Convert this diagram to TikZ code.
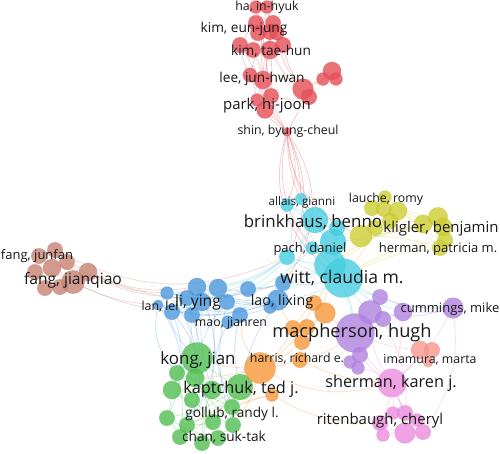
\documentclass[tikz,border=0pt]{standalone}
\usepackage{fontspec}
\setmainfont{Open Sans}
\pgfdeclarelayer{bg}
\pgfsetlayers{bg,main}
\definecolor{cR}{RGB}{230,78,88}
\definecolor{cC}{RGB}{70,205,225}
\definecolor{cY}{RGB}{205,205,50}
\definecolor{cB}{RGB}{75,152,222}
\definecolor{cN}{RGB}{200,130,115}
\definecolor{cG}{RGB}{80,192,80}
\definecolor{cO}{RGB}{246,152,55}
\definecolor{cP}{RGB}{175,130,224}
\definecolor{cK}{RGB}{236,140,222}
\definecolor{cS}{RGB}{246,152,142}
\definecolor{txt}{RGB}{25,25,25}
\newcommand\mkbub[5]{\node[bub,fill=#5,draw=#5!85!black,minimum size=1.3*#4pt] (#1) at (#2,#3) {};}
\newcommand\mklab[4]{\node[lab,font=\fontsize{#4}{#4}\selectfont] (#1) at (#2) {#3};}
\begin{document}
\begin{tikzpicture}[x=1pt,y=-1pt,
  bub/.style={circle,inner sep=0pt,fill opacity=0.8,draw opacity=0.3,line width=0.4pt},
  lab/.style={inner sep=0pt,text=txt,anchor=center,scale=1.3},
  edg/.style={line width=0.7pt,draw opacity=0.32}]
\useasboundingbox (0,0) rectangle (500,453);
\begin{pgfonlayer}{bg}
\fill[white] (0,0) rectangle (500,453);
\end{pgfonlayer}
% Red
\mkbub{r1}{256}{7}{10}{cR}
\mkbub{r2}{267}{7}{10}{cR}
\mkbub{r3}{256}{23}{12}{cR}
\mkbub{r4}{273}{23}{12}{cR}
\mkbub{r5}{258}{33}{12}{cR}
\mkbub{r6}{270}{32}{12}{cR}
\mkbub{r7}{277}{33}{11}{cR}
\mkbub{r8}{240}{45}{12}{cR}
\mkbub{r9}{253}{50}{12}{cR}
\mkbub{r10}{270}{50}{14}{cR}
\mkbub{r11}{283}{45}{12}{cR}
\mkbub{r12}{250}{75}{11}{cR}
\mkbub{r13}{263}{80}{14}{cR}
\mkbub{r14}{303}{89}{16}{cR}
\mkbub{r15}{309}{97}{12}{cR}
\mkbub{r16}{323}{79}{10}{cR}
\mkbub{r17}{332}{71}{14}{cR}
\mkbub{r18}{336}{79}{10}{cR}
\mkbub{r19}{257}{100}{10}{cR}
\mkbub{r20}{271}{96}{12}{cR}
\mkbub{r21}{265}{110}{13}{cR}
\mkbub{r22}{287}{132}{7}{cR}
% Cyan
\mkbub{c1}{287}{205}{10}{cC}
\mkbub{c2}{301}{199}{9}{cC}
\mkbub{c3}{315}{220}{20}{cC}
\mkbub{c4}{337}{228}{12}{cC}
\mkbub{c5}{333}{242}{20}{cC}
\mkbub{c6}{287}{257}{12}{cC}
\mkbub{c7}{312}{248}{10}{cC}
\mkbub{c8}{330}{265}{24}{cC}
\mkbub{c9}{343}{278}{30}{cC}
% Yellow
\mkbub{y1}{385}{197}{10}{cY}
\mkbub{y2}{372}{208}{12}{cY}
\mkbub{y3}{384}{209}{12}{cY}
\mkbub{y4}{398}{211}{14}{cY}
\mkbub{y5}{390}{221}{12}{cY}
\mkbub{y6}{375}{228}{12}{cY}
\mkbub{y7}{361}{236}{17}{cY}
\mkbub{y8}{423}{224}{14}{cY}
\mkbub{y9}{438}{217}{15}{cY}
\mkbub{y10}{443}{227}{14}{cY}
\mkbub{y11}{445}{240}{12}{cY}
\mkbub{y12}{440}{248}{12}{cY}
% Blue
\mkbub{b1}{197}{287}{14}{cB}
\mkbub{b2}{218}{288}{14}{cB}
\mkbub{b3}{167}{293}{10}{cB}
\mkbub{b4}{158}{305}{8}{cB}
\mkbub{b5}{172}{312}{12}{cB}
\mkbub{b6}{187}{298}{12}{cB}
\mkbub{b7}{202}{302}{14}{cB}
\mkbub{b8}{192}{315}{12}{cB}
\mkbub{b9}{227}{302}{12}{cB}
\mkbub{b10}{240}{315}{12}{cB}
\mkbub{b11}{228}{322}{10}{cB}
\mkbub{b12}{248}{289}{12}{cB}
\mkbub{b13}{283}{283}{12}{cB}
\mkbub{b14}{278}{300}{16}{cB}
\mkbub{b15}{270}{307}{10}{cB}
% Brown
\mkbub{n1}{55}{250}{12}{cN}
\mkbub{n2}{39}{256}{12}{cN}
\mkbub{n3}{35}{272}{12}{cN}
\mkbub{n4}{52}{268}{14}{cN}
\mkbub{n5}{67}{262}{12}{cN}
\mkbub{n6}{88}{272}{14}{cN}
\mkbub{n7}{73}{282}{18}{cN}
\mkbub{n8}{60}{287}{12}{cN}
\mkbub{n9}{45}{288}{12}{cN}
% Green
\mkbub{g1}{197}{358}{24}{cG}
\mkbub{g2}{177}{373}{12}{cG}
\mkbub{g3}{172}{390}{14}{cG}
\mkbub{g4}{167}{418}{12}{cG}
\mkbub{g5}{180}{437}{12}{cG}
\mkbub{g6}{202}{443}{12}{cG}
\mkbub{g7}{218}{438}{12}{cG}
\mkbub{g8}{195}{378}{14}{cG}
\mkbub{g9}{192}{400}{12}{cG}
\mkbub{g10}{212}{390}{14}{cG}
\mkbub{g11}{240}{387}{20}{cG}
\mkbub{g12}{232}{407}{12}{cG}
\mkbub{g13}{213}{422}{12}{cG}
\mkbub{g14}{187}{425}{12}{cG}
\mkbub{g15}{233}{425}{12}{cG}
% Orange
\mkbub{o1}{260}{368}{24}{cO}
\mkbub{o2}{300}{360}{12}{cO}
\mkbub{o3}{272}{395}{10}{cO}
\mkbub{o4}{314}{303}{12}{cO}
\mkbub{o5}{325}{313}{16}{cO}
\mkbub{o6}{293}{328}{12}{cO}
\mkbub{o7}{307}{327}{12}{cO}
\mkbub{o8}{302}{342}{12}{cO}
% Purple
\mkbub{p1}{355}{333}{30}{cP}
\mkbub{p2}{380}{297}{12}{cP}
\mkbub{p3}{370}{312}{18}{cP}
\mkbub{p4}{383}{319}{12}{cP}
\mkbub{p5}{403}{312}{14}{cP}
\mkbub{p6}{453}{308}{16}{cP}
\mkbub{p7}{350}{362}{10}{cP}
\mkbub{p8}{360}{355}{12}{cP}
\mkbub{p9}{358}{368}{10}{cP}
% Salmon
\mkbub{s1}{420}{350}{14}{cS}
\mkbub{s2}{432}{350}{12}{cS}
\mkbub{s3}{428}{362}{8}{cS}
% Pink
\mkbub{k1}{392}{383}{22}{cK}
\mkbub{k2}{393}{413}{10}{cK}
\mkbub{k3}{405}{413}{12}{cK}
\mkbub{k4}{380}{423}{12}{cK}
\mkbub{k5}{405}{433}{16}{cK}
\mkbub{k6}{423}{432}{12}{cK}
\mkbub{k7}{383}{435}{10}{cK}
\mkbub{k8}{417}{420}{10}{cK}
% ---------- edges (behind) ----------
\begin{pgfonlayer}{bg}
\foreach \a/\b/\c/\d in {
 r1/r3/cR/5, r2/r4/cR/-5, r1/r8/cR/10, r3/r9/cR/5, r4/r10/cR/-5, r5/r12/cR/5, r6/r13/cR/5,
 r8/r12/cR/-8, r9/r13/cR/5, r10/r20/cR/5, r11/r14/cR/-10, r12/r19/cR/5, r13/r21/cR/-5,
 r3/r21/cR/12, r4/r20/cR/-12, r14/r17/cR/-10, r14/r16/cR/5, r15/r20/cR/10, r2/r11/cR/-10,
 r7/r14/cR/-15, r1/r19/cR/15, r2/r13/cR/-8, r10/r15/cR/-10,
 r19/r22/cR/-10, r21/r22/cR/5, r20/r22/cR/-5, r13/r22/cR/-12, r14/r22/cR/10, r8/r21/cR/10,
 r22/c1/cR/20, r22/c2/cR/10, r22/c3/cR/-10, r22/c5/cR/-20, r22/c8/cR/-28, r22/c9/cR/-35,
 r22/c6/cR/25, r22/b13/cR/35, r22/y7/cR/-30,
 c1/c3/cC/5, c2/c3/cC/-5, c3/c5/cC/5, c3/c8/cC/10, c4/c9/cC/-10, c6/c8/cC/-5, c7/c9/cC/5,
 c1/c6/cC/15, c3/c6/cC/10, c5/c9/cC/-8, c2/c8/cC/-12, c1/c9/cC/18, c6/c9/cC/-10,
 c3/y7/cY/-10, c5/y7/cY/5, c4/y2/cY/-10, c8/y8/cY/12, c9/y12/cY/10, c5/y9/cY/-8, c9/y6/cY/-5,
 c9/y11/cY/12, c8/y4/cY/-10,
 y1/y3/cY/5, y2/y6/cY/5, y3/y5/cY/5, y4/y8/cY/-5, y5/y9/cY/-8, y7/y8/cY/-5, y8/y10/cY/5,
 y9/y12/cY/10, y10/y11/cY/5, y6/y11/cY/10, y4/y9/cY/-10, y7/y12/cY/8, y1/y9/cY/-15,
 b1/b2/cB/-10, b2/b12/cB/-10, b12/b13/cB/-8, b1/b3/cB/10, b3/b4/cB/5, b4/b5/cB/5,
 b5/b8/cB/5, b6/b7/cB/5, b7/b9/cB/5, b9/b10/cB/5, b10/b11/cB/5, b11/b8/cB/10,
 b10/b15/cB/-5, b14/b15/cB/5, b9/b14/cB/-10, b1/b14/cB/-12, b3/b12/cB/-15, b4/b14/cB/-18,
 b3/b14/cB/-25, b5/b15/cB/15, b4/b13/cB/-30,
 b1/c6/cC/-15, b2/c6/cC/-12, b12/c8/cC/-10, b13/c9/cC/-8, b14/c9/cC/-10, b3/c6/cC/-22,
 b4/c3/cC/-30, b3/c7/cC/-28, b4/c8/cC/-20,
 n6/b3/cN/-12, n7/b4/cN/-10, n6/b1/cN/-15, n5/b6/cN/-14, n7/b5/cN/-8, n6/b13/cN/-20, n1/c6/cN/-25,
 n1/n5/cN/5, n2/n4/cN/5, n3/n9/cN/5, n4/n7/cN/5, n5/n6/cN/5, n6/n7/cN/5, n7/n8/cN/5, n1/n4/cN/-5,
 n2/n6/cN/-10, n3/n7/cN/10,
 b3/g1/cB/-20, b4/g2/cB/-25, b5/g3/cB/20, b6/g1/cB/10, b8/g8/cB/15, b9/g1/cB/-10, b10/g11/cB/-12,
 b4/g4/cB/30, b5/g5/cB/35, b11/g10/cB/-10, b3/g9/cB/25, b14/g11/cB/-10, b1/g14/cB/30,
 b2/g12/cB/-15, b6/g3/cB/20, b7/g10/cB/-10, b9/g15/cB/-15,
 g1/g2/cG/5, g1/g8/cG/5, g1/g10/cG/-5, g1/g11/cG/-5, g2/g3/cG/5, g3/g4/cG/5, g4/g5/cG/5,
 g5/g6/cG/5, g6/g7/cG/5, g7/g15/cG/5, g15/g12/cG/5, g12/g11/cG/5, g8/g9/cG/5, g9/g14/cG/5,
 g10/g12/cG/5, g13/g14/cG/5, g11/g13/cG/10, g3/g11/cG/-8, g4/g11/cG/-10, g2/g12/cG/-8,
 g8/g13/cG/8, g9/g15/cG/-8, g14/g11/cG/-10, g5/g11/cG/-10, g6/g10/cG/10, g3/g7/cG/10,
 g1/g14/cG/-12, g1/g6/cG/12, g2/g10/cG/5, g4/g7/cG/-8, g2/g5/cG/10, g8/g15/cG/-6,
 g1/o1/cO/-8, g11/o1/cO/5, g10/o1/cO/-10, g12/o3/cO/5, g8/o1/cO/-5, g13/o3/cO/10, g15/o1/cO/-10,
 g3/o1/cO/-12, g14/o1/cO/-15,
 o1/o6/cO/-10, o1/o8/cO/-8, o1/o2/cO/-5, o2/o8/cO/5, o6/o7/cO/5, o4/o5/cO/5, o5/o7/cO/5,
 o4/o6/cO/-5, o1/o3/cO/10, o2/p1/cO/-10, o5/p1/cO/-5, o4/c9/cO/10, o6/b14/cO/5, o1/b10/cO/15,
 o3/k4/cO/-15, o1/k1/cO/-20, o2/k1/cO/-10, o8/c8/cO/-15, o1/o4/cO/-15,
 p1/p3/cP/5, p2/p3/cP/5, p3/p4/cP/5, p4/p5/cP/5, p5/p6/cP/-8, p3/p6/cP/-12, p1/p8/cP/5,
 p8/p9/cP/5, p7/p9/cP/5, p1/p5/cP/-5, c9/p2/cC/-10, c9/p3/cC/-5, c9/p5/cC/-12, c9/p6/cC/-15,
 c9/p1/cC/5, c8/p1/cC/10, p2/p6/cP/-10,
 p1/k1/cK/-10, p6/k1/cK/10, p3/k1/cK/-15, p5/k1/cK/5, p8/k1/cK/-8, p9/k1/cK/10,
 k1/k2/cK/5, k1/k3/cK/-5, k1/k5/cK/10, k1/k6/cK/-10, k1/k4/cK/8, k2/k7/cK/5, k3/k8/cK/5,
 k5/k6/cK/5, k4/k5/cK/-10, k7/k5/cK/5, k1/s1/cS/-10, p1/s1/cS/-8, p6/k6/cK/20, p4/k5/cK/15
}{\draw[edg,draw=\c] (\a) to[bend left=\d] (\b);}
\end{pgfonlayer}
% ---------- labels ----------
\mklab{Lha}{267,7}{ha, in-hyuk}{9.5}
\mklab{Lkimej}{244,29}{kim, eun-jung}{10.5}
\mklab{Lkimth}{271,51}{kim, tae-hun}{10.5}
\mklab{Llee}{262,79}{lee, jun-hwan}{10.5}
\mklab{Lpark}{267,106}{park, hi-joon}{11.5}
\mklab{Lshin}{288,131}{shin, byung-cheul}{9.5}
\mklab{Lallais}{302,202}{allais, gianni}{9}
\mklab{Lbrink}{313,222}{brinkhaus, benno}{13}
\mklab{Lpach}{310,249}{pach, daniel}{10}
\mklab{Lwitt}{342,278}{witt, claudia m.}{13.5}
\mklab{Llauche}{386,199}{lauche, romy}{9.5}
\mklab{Lkligler}{441,229}{kligler, benjamin}{11.5}
\mklab{Lherman}{438,249}{herman, patricia m.}{10}
\mklab{Ljunfan}{37,256}{fang, junfan}{10}
\mklab{Ljianqiao}{73,280}{fang, jianqiao}{12}
\mklab{Llan}{160,307}{lan, lei}{9.5}
\mklab{Lli}{198,302}{li, ying}{12}
\mklab{Llao}{282,302}{lao, lixing}{11}
\mklab{Lmao}{231,323}{mao, jianren}{9.5}
\mklab{Lkong}{198,360}{kong, jian}{13}
\mklab{Lkapt}{241,389}{kaptchuk, ted j.}{12.5}
\mklab{Lgollub}{232,414}{gollub, randy l.}{10.5}
\mklab{Lchan}{224,437}{chan, suk-tak}{10.5}
\mklab{Lharris}{297,359}{harris, richard e.}{9.5}
\mklab{Lmac}{352,333}{macpherson, hugh}{14}
\mklab{Lcum}{450,309}{cummings, mike}{10}
\mklab{Limam}{430,360}{imamura, marta}{9.5}
\mklab{Lsher}{391,383}{sherman, karen j.}{12.5}
\mklab{Lrit}{380,421}{ritenbaugh, cheryl}{11.5}
\end{tikzpicture}
\end{document}
